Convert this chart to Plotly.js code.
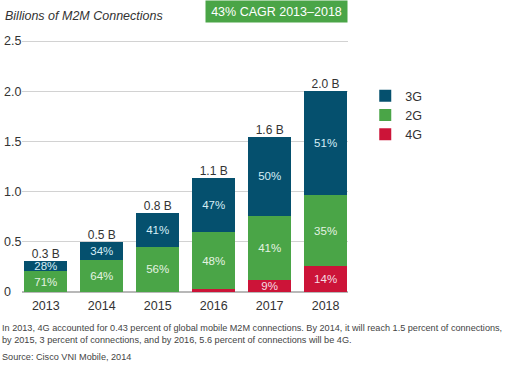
<!DOCTYPE html>
<html>
<head>
<meta charset="utf-8">
<script src="https://cdn.plot.ly/plotly-3.0.1.min.js"></script>
<style>html,body{margin:0;padding:0;background:#fff;}#chart{width:508px;height:367px;}</style>
</head>
<body>
<div id="chart"></div>
<script>
// ---- data ----
const years = ['2013', '2014', '2015', '2016', '2017', '2018'];
const g4 = [0, 0, 0, 0.032, 0.115, 0.256];          // billions
const g2 = [0.206, 0.316, 0.45, 0.562, 0.646, 0.713];
const g3 = [0.104, 0.184, 0.335, 0.539, 0.787, 1.031];
const pct4 = ['', '', '', '', '9%', '14%'];
const pct2 = ['71%', '64%', '56%', '48%', '41%', '35%'];
const pct3 = ['28%', '34%', '41%', '47%', '50%', '51%'];
const totalLabels = ['0.3 B', '0.5 B', '0.8 B', '1.1 B', '1.6 B', '2.0 B'];
const yTicks = [0, 0.5, 1.0, 1.5, 2.0, 2.5];
const yTickText = ['0', '0.5', '1.0', '1.5', '2.0', '2.5'];

const totals = years.map((_, i) => g4[i] + g2[i] + g3[i]);

const FONT = 'Liberation Sans, Arial, sans-serif';
const W = 508;
const TOP = 39, BOT = 292, PH = BOT - TOP;
const py = p => (BOT - p) / PH;   // page pixel -> paper y

function barTrace(name, vals, txt, color, txtColor) {
  return {
    type: 'bar', name: name, x: years, y: vals,
    marker: {color: color, line: {width: 0}},
    text: txt, textposition: 'inside', insidetextanchor: 'middle',
    textangle: 0, constraintext: 'none',
    insidetextfont: {family: FONT, size: 11.5, color: txtColor},
    hoverinfo: 'skip'
  };
}

const data = [
  barTrace('4G', g4, pct4, '#cc1438', '#f6dde2'),
  barTrace('2G', g2, pct2, '#4aa547', '#e4f3e2'),
  barTrace('3G', g3, pct3, '#05506e', '#d6eef6'),
  {
    type: 'scatter', mode: 'text', x: years, y: totals, text: totalLabels,
    textposition: 'top center', showlegend: false, hoverinfo: 'skip',
    textfont: {family: FONT, size: 12, color: '#333333'}, cliponaxis: false
  }
];

const layout = {
  width: 508, height: 367,
  margin: {l: 0, r: 0, t: TOP, b: 367 - BOT},
  paper_bgcolor: '#ffffff', plot_bgcolor: '#ffffff',
  font: {family: FONT, color: '#333333', size: 12},
  barmode: 'stack', bargap: 0.229,
  showlegend: true,
  legend: {
    x: 0.719, y: py(81), xanchor: 'left', yanchor: 'top',
    font: {family: FONT, size: 12.5, color: '#333333'},
    bgcolor: 'rgba(0,0,0,0)', tracegroupgap: 0
  },
  xaxis: {
    type: 'category', domain: [22.3 / W, 348 / W],
    range: [-0.42, 5.40], showgrid: false, zeroline: false, showline: false,
    ticks: '', ticklabelstandoff: 4,
    tickfont: {family: FONT, size: 12.5, color: '#333333'},
    fixedrange: true
  },
  yaxis: {
    range: [0, 2.52], tickvals: yTicks, ticktext: yTickText,
    anchor: 'free', position: 0, ticklabelposition: 'inside',
    ticklabeloverflow: 'allow',
    showgrid: true, gridcolor: '#d2d2d2', gridwidth: 1,
    zeroline: true, zerolinecolor: '#b8b8b8', zerolinewidth: 1.5,
    showline: false, ticks: '',
    tickfont: {family: FONT, size: 12.5, color: '#333333'},
    fixedrange: true
  },
  annotations: [
    {
      text: '<i>Billions of M2M Connections</i>', xref: 'paper', yref: 'paper',
      x: 3 / W, y: py(16), xanchor: 'left', yanchor: 'middle',
      showarrow: false, font: {family: FONT, size: 12.5, color: '#333333'}
    },
    {
      text: '43% CAGR 2013–2018', xref: 'paper', yref: 'paper',
      x: 348 / W, y: py(0), xanchor: 'right', yanchor: 'top',
      width: 141, height: 21, bgcolor: '#4aa547', borderpad: 0,
      showarrow: false, font: {family: FONT, size: 12.5, color: '#ffffff'}
    },
    {
      text: 'In 2013, 4G accounted for 0.43 percent of global mobile M2M connections. By 2014, it will reach 1.5 percent of connections,<br>by 2015, 3 percent of connections, and by 2016, 5.6 percent of connections will be 4G.',
      xref: 'paper', yref: 'paper', x: 0, y: py(321),
      xanchor: 'left', yanchor: 'top', align: 'left', showarrow: false,
      font: {family: FONT, size: 9.15, color: '#444444'}
    },
    {
      text: 'Source: Cisco VNI Mobile, 2014',
      xref: 'paper', yref: 'paper', x: 0, y: py(357),
      xanchor: 'left', yanchor: 'middle', align: 'left', showarrow: false,
      font: {family: FONT, size: 9.15, color: '#444444'}
    }
  ]
};

Plotly.newPlot('chart', data, layout, {displayModeBar: false, staticPlot: true});
</script>
</body>
</html>
